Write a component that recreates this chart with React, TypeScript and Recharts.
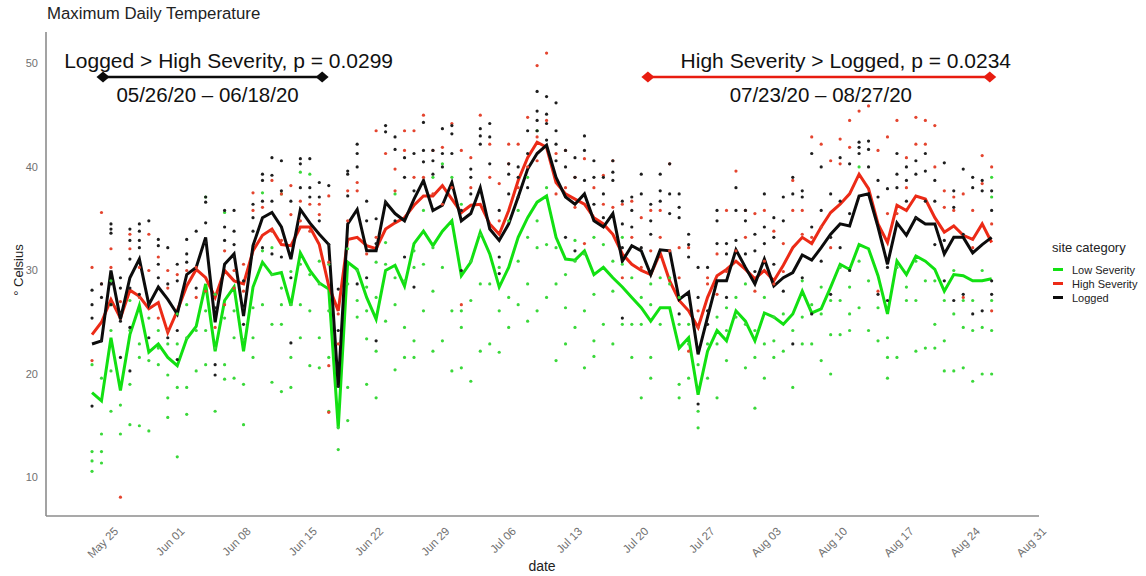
import {
  ComposedChart,
  Line,
  Scatter,
  XAxis,
  YAxis,
  ReferenceLine,
  ReferenceDot,
  Label,
  Legend,
} from "recharts";

const FONT = '"Liberation Sans", Arial, Helvetica, sans-serif';
const GREEN = "#12e012";
const RED = "#ec2a16";
const BLACK = "#0c0c0c";

// day 0 = May 23 2020
const tickDays = [2, 9, 16, 23, 30, 37, 44, 51, 58, 65, 72, 79, 86, 93, 100];
const tickLabels = [
  "May 25", "Jun 01", "Jun 08", "Jun 15", "Jun 22", "Jun 29", "Jul 06", "Jul 13",
  "Jul 20", "Jul 27", "Aug 03", "Aug 10", "Aug 17", "Aug 24", "Aug 31",
];
const yTicks = [10, 20, 30, 40, 50];

// daily means
const lowSeverity = [
  18.2, 17.4, 23.5, 18.4, 23.8, 26.6, 22.1, 22.9, 21.6, 20.8, 23.4, 24.6, 28.7, 22.2, 27.1, 28.4,
  22.2, 28.4, 30.8, 29.6, 29.8, 26.6, 31.7, 30.0, 28.8, 28.2, 14.8, 30.8, 30.1, 27.4, 25.3, 30.0,
  30.5, 28.5, 32.6, 33.8, 32.4, 33.8, 34.8, 29.5, 30.8, 33.7, 31.6, 28.4, 30.3, 33.2, 35.1, 36.6,
  37.2, 33.2, 31.1, 31.0, 31.9, 29.6, 30.3, 29.3, 28.4, 27.4, 26.4, 25.1, 26.4, 26.4, 22.5, 23.5,
  18.0, 22.2, 24.2, 23.2, 26.1, 25.1, 23.2, 25.9, 25.5, 24.8, 25.8, 28.0, 25.9, 26.3, 28.4, 30.6,
  30.1, 32.5, 32.1, 29.5, 25.8, 30.9, 29.6, 31.4, 30.9, 30.1, 28.0, 29.6, 29.5, 29.0, 29.0, 29.2,
];
const highSeverity = [
  23.8, 25.0, 27.2, 25.4, 28.1, 27.5, 26.3, 26.9, 24.0, 26.1, 28.5, 30.1, 29.3, 27.4, 30.0, 29.0,
  28.7, 31.9, 33.4, 34.0, 32.5, 32.4, 34.2, 34.2, 32.5, 28.5, 26.1, 33.0, 33.2, 32.4, 32.1, 34.0,
  34.6, 35.1, 36.3, 37.2, 37.2, 38.2, 36.9, 35.6, 36.3, 36.4, 34.5, 33.5, 35.8, 38.7, 40.9, 42.4,
  41.9, 38.5, 37.4, 36.9, 36.4, 35.1, 34.5, 33.5, 31.6, 30.6, 30.0, 29.6, 31.7, 29.0, 27.1, 26.1,
  24.5, 27.4, 29.5, 30.1, 30.9, 30.1, 29.2, 30.0, 29.0, 30.5, 32.2, 33.2, 32.6, 34.2, 35.6, 36.4,
  37.4, 39.3, 37.9, 34.5, 32.7, 36.3, 35.8, 37.2, 36.9, 35.1, 33.7, 34.3, 33.4, 33.0, 34.5, 32.7,
];
const logged = [
  22.9, 23.2, 30.0, 25.3, 29.3, 31.1, 26.7, 28.4, 27.2, 25.8, 29.6, 30.3, 33.2, 25.0, 30.6, 31.6,
  25.6, 32.4, 35.1, 35.6, 34.2, 31.1, 35.9, 34.6, 33.5, 32.5, 18.8, 34.5, 35.9, 31.9, 31.9, 36.6,
  35.5, 34.8, 36.9, 38.7, 35.8, 36.3, 38.5, 34.8, 35.5, 38.0, 34.0, 32.9, 34.5, 37.1, 39.8, 41.3,
  42.1, 39.0, 37.1, 36.4, 37.4, 34.8, 34.2, 35.5, 30.9, 32.4, 31.9, 29.6, 32.0, 31.9, 27.2, 27.9,
  21.9, 25.5, 29.0, 29.0, 32.0, 30.3, 28.7, 31.1, 28.5, 29.3, 29.8, 31.5, 31.0, 32.2, 33.5, 34.5,
  34.3, 37.2, 37.4, 34.2, 30.6, 34.6, 33.4, 35.1, 34.5, 34.5, 31.6, 33.2, 33.2, 31.7, 32.5, 33.2,
];

// site readings, one list per day
const lowSeverityPts: number[][] = [
  [20.9, 12.5, 11.6, 10.6], [19.6, 14.2, 12.5, 11.4], [29.0, 26.7, 24.2, 20.3, 16.4], [17.0, 14.2],
  [27.1, 24.2, 19.0, 15.1], [22.9, 21.6, 15.0], [25.4, 21.3, 14.5], [24.2, 22.5, 20.9],
  [22.9, 19.9, 17.7, 15.8], [25.8, 22.9, 18.7, 12.0], [26.7, 23.5, 18.7, 16.1], [24.2, 20.3],
  [37.1, 26.1, 24.2, 20.9], [27.7, 22.5, 16.4], [35.6, 25.4, 20.9, 19.5], [26.1, 23.5, 19.6],
  [23.3, 19.0, 15.1], [26.4, 23.5, 21.6], [37.5, 31.9, 26.7], [32.2, 29.6, 24.8, 19.2],
  [37.4, 28.3, 26.7, 24.8, 18.3], [29.9, 26.7, 21.6, 18.7], [39.5, 30.6, 26.7, 23.5], [39.3, 29.6, 26.1, 20.8],
  [30.9, 28.7, 23.5, 20.6], [30.6, 26.1, 21.6, 16.4], [14.8, 12.7], [32.1, 28.7, 18.7, 15.5],
  [30.0, 27.1, 25.5], [28.4, 26.1, 23.4, 19.0], [30.8, 27.4, 22.2, 17.7], [32.7, 30.6, 25.1],
  [37.4, 29.3, 26.7, 20.4], [29.0, 24.5, 21.6], [31.9, 30.3, 23.2, 21.6], [35.8, 30.6, 26.1],
  [39.0, 32.2, 28.0, 22.2], [40.3, 30.3, 23.2], [39.0, 26.1, 20.3], [36.4, 26.1, 24.5, 20.6],
  [30.9, 27.1, 19.3], [33.4, 28.7, 22.2], [28.7, 22.9], [30.3, 26.1, 22.1],
  [34.8, 27.4, 24.5], [35.8, 30.9, 26.7], [39.0, 33.2, 28.7, 25.1], [43.5, 34.8, 32.2, 26.1],
  [38.0, 32.5, 27.4], [32.2, 28.7, 21.3], [29.6, 26.4, 22.9], [32.9, 30.9, 24.5],
  [31.6, 26.1, 20.6], [33.2, 27.7, 23.2, 21.7], [32.5, 24.8], [30.9, 28.0, 22.9],
  [33.2, 30.6, 24.8], [29.3, 24.8, 21.6], [27.4, 24.8, 17.7], [28.7, 26.7, 21.6, 19.6],
  [29.3, 24.8], [29.3, 28.7], [27.4, 24.8, 19.0, 17.7], [24.8, 22.9, 19.6],
  [20.9, 16.4, 14.8], [22.9, 19.6], [25.5, 22.9, 17.7], [26.4, 24.2, 21.3],
  [27.4, 25.5], [28.7, 24.8, 20.6], [24.2, 21.6, 16.7], [27.4, 22.9, 19.6],
  [25.5, 23.2, 21.6], [25.8, 22.2], [24.2, 18.7], [29.0, 25.5, 22.9],
  [26.7, 22.9], [28.4, 25.8, 21.3], [27.1, 23.8, 20.0], [30.3, 27.1, 23.8],
  [28.4, 25.8, 24.2], [40.0, 30.9, 26.4], [29.0, 24.2], [26.4, 23.2],
  [23.5, 21.6, 19.6], [30.3, 21.6], [28.4, 27.1], [30.9, 27.1, 22.2],
  [29.0, 22.5], [29.0, 24.8, 22.5], [27.1, 23.2, 20.3], [30.0, 25.8, 20.3],
  [27.1, 24.5, 20.6], [27.1, 24.2, 19.3], [30.0, 24.5, 20.0], [39.0, 37.1, 27.1, 24.2, 20.0],
];
const highSeverityPts: number[][] = [
  [30.3, 21.3], [35.6, 28.7], [32.1, 30.3], [8.1, 27.0], [33.5, 32.1], [30.3, 27.4], [33.5, 30.0], [31.3, 25.4],
  [30.0, 28.3, 24.2], [29.6], [30.0], [30.3, 27.4], [28.0], [24.5], [31.9, 26.7], [30.0, 28.3],
  [30.6, 28.0], [37.5, 35.8], [36.1], [38.7, 33.8], [37.4, 32.9], [38.2, 35.4], [36.7, 34.8], [36.4, 33.8],
  [36.4, 35.4], [37.2, 30.8, 20.8, 16.3], [25.8, 22.9], [37.7, 34.8], [38.5, 37.7], [31.6], [43.5, 33.2], [41.3],
  [39.8, 37.7], [43.5, 41.6], [43.5, 39.0], [45.0, 39.0], [41.6, 37.4], [41.9, 36.4], [44.2, 38.0], [41.6, 26.7],
  [40.9, 38.0], [45.0], [42.2, 39.0], [38.4, 34.8], [42.2, 40.3], [42.2, 38.0], [44.8, 40.0], [49.8, 42.9, 40.6],
  [51.0, 44.5], [41.3, 37.4], [41.6, 38.0], [39.0, 36.1], [40.8, 32.6], [38.0], [39.2, 36.4], [40.6, 36.1],
  [36.4, 29.3], [36.7, 33.2], [35.1, 30.3], [35.8, 31.9], [35.8, 33.2], [40.3, 31.9], [32.2, 29.3], [32.2, 22.2],
  [26.1, 24.5], [29.3, 28.7], [31.6, 27.7], [35.8, 29.9], [39.6, 31.9], [35.8, 33.2], [35.5, 28.0], [35.8, 30.9],
  [33.8, 28.7], [32.6, 29.9], [38.7, 35.8], [35.8, 33.5], [42.9, 33.2], [42.2, 34.2], [40.6, 32.2], [42.7, 40.3],
  [44.5, 41.9], [45.4], [45.9], [41.6, 28.0], [42.9, 35.5], [44.5, 35.5], [40.9, 38.0], [44.8, 42.2],
  [44.5, 42.2], [44.0, 40.0], [37.7, 36.1], [37.1, 35.8], [37.4, 27.4], [35.8, 32.2], [41.1, 38.4], [40.0, 34.5, 26.1],
];
const loggedPts: number[][] = [
  [28.1, 26.7, 25.4, 16.9], [28.7, 27.4, 23.2], [34.5, 34.0, 33.6, 28.7, 26.7], [29.3, 28.3, 25.9, 25.1, 21.6],
  [34.0, 32.9, 31.1, 28.3, 24.5, 20.3], [34.5, 33.8, 32.9, 32.2, 27.7], [34.8, 26.7, 23.5], [33.0, 32.4, 30.6, 29.3],
  [32.2, 28.7, 23.5], [30.6, 29.0, 24.2, 21.4], [33.0, 31.6, 30.8], [33.8, 28.3],
  [37.1, 36.6, 34.6, 32.7], [26.4, 20.9, 19.9], [35.8, 34.2, 32.9], [35.8, 33.8, 32.5, 31.3],
  [29.0, 26.4, 24.8], [36.4, 35.1, 33.8], [39.3, 38.7, 36.7, 32.2], [40.9, 39.2, 36.7, 31.6],
  [40.6, 37.7, 31.3], [36.7, 29.3, 23.0], [40.8, 40.3, 38.0], [40.8, 38.0, 37.1],
  [38.5, 37.1, 34.8], [38.2, 32.5], [28.2, 24.2, 18.8], [39.6, 39.3, 37.2],
  [42.2, 41.3, 40.0, 28.7], [36.7, 34.8, 29.3], [35.0, 32.6, 23.2], [44.0, 43.4, 36.6],
  [42.9, 41.7, 34.8], [40.9, 39.0, 31.3], [41.3, 37.7, 28.4], [44.3, 41.6, 40.5],
  [41.6, 40.6, 39.3], [43.7, 41.3, 40.0], [44.0, 43.2, 41.3], [35.8, 30.0],
  [39.8, 39.0, 37.4], [43.7, 43.0, 42.2], [44.2, 42.9, 40.3], [35.8, 31.3, 29.7],
  [40.3, 39.3, 37.4], [40.0, 39.0, 37.1], [43.5, 41.3, 38.0], [47.3, 45.4, 44.5, 43.5],
  [46.8, 45.1, 44.2, 42.6], [46.2, 43.5, 42.2, 40.6], [41.6, 40.0, 33.2], [40.9, 39.0, 31.9],
  [43.0, 41.6, 38.7], [40.6, 39.0, 36.4], [39.0, 37.4, 35.1], [40.6, 39.5, 38.7],
  [36.7, 34.5, 32.2, 25.4], [37.1, 35.8, 34.2], [39.3, 37.4, 32.2], [36.4, 34.8, 33.5],
  [39.3, 37.7, 36.7], [40.3, 37.4, 35.5], [37.4, 36.1, 35.1, 25.8], [33.5, 32.5, 31.3],
  [30.3, 27.4, 17.1], [30.3, 26.1, 24.8], [35.8, 34.8, 32.6], [32.6, 31.6, 27.4],
  [38.0, 35.8, 32.9], [35.8, 34.8, 31.6], [33.5, 31.9, 29.9], [37.4, 34.2, 32.6],
  [35.1, 33.2, 30.6], [37.1, 34.8, 28.0], [39.0, 37.4, 22.9], [37.7, 37.1, 29.3],
  [41.3, 34.2, 25.8], [40.0, 35.8, 30.9], [37.4, 33.2, 27.7], [40.9, 36.7, 32.2],
  [40.3, 35.5, 30.0], [42.4, 41.9, 41.3], [42.5, 41.7, 40.0], [38.7, 37.1, 27.7],
  [37.9, 30.3, 27.1], [41.3, 39.3, 38.0], [40.0, 38.7, 36.7], [40.6, 39.3, 35.1],
  [41.3, 39.6, 36.7], [38.7, 36.7, 32.5], [40.4, 32.9, 29.0], [37.7, 36.1, 27.1],
  [39.8, 33.5, 27.7], [39.0, 38.0, 25.8], [38.7, 37.7, 26.1], [37.7, 35.8, 29.0, 27.7],
];

// significance brackets (day positions, temperature height)
const brackets = [
  { from: 1.16, to: 24.3, y: 48.7, color: BLACK, title: "Logged > High Severity, p = 0.0299", dates: "05/26/20 \u2013 06/18/20", dxTitle: 16, dxDates: -5 },
  { from: 58.7, to: 94.8, y: 48.7, color: "#e81c10", title: "High Severity > Logged,  p = 0.0234", dates: "07/23/20 \u2013 08/27/20", dxTitle: 27, dxDates: 2 },
];

const series = [
  { name: "Low Severity", color: GREEN, dot: "#3ad83a", line: lowSeverity, pts: lowSeverityPts },
  { name: "High Severity", color: RED, dot: "#e4442e", line: highSeverity, pts: highSeverityPts },
  { name: "Logged", color: BLACK, dot: "#1e1e1e", line: logged, pts: loggedPts },
];

const toLine = (vals: number[]) => vals.map((temp, day) => ({ day, temp }));
const toPts = (cols: number[][]) => cols.flatMap((col, day) => col.map((temp) => ({ day, temp })));

function DateTick({ x, y, payload }: any) {
  const label = tickLabels[tickDays.indexOf(payload.value)];
  const ax = x + 8;
  const ay = y + 8;
  return (
    <text x={ax} y={ay} transform={`rotate(-45 ${ax} ${ay})`} textAnchor="end" fontSize={11.5} fill="#707070" fontFamily={FONT}>
      {label}
    </text>
  );
}

function diamond(color: string) {
  return (p: any) => (
    <path d={`M${p.cx},${p.cy - 5.5}L${p.cx + 6.5},${p.cy}L${p.cx},${p.cy + 5.5}L${p.cx - 6.5},${p.cy}Z`} fill={color} />
  );
}

function bracketLabel(b: (typeof brackets)[number]) {
  return (props: any) => {
    const vb = props.viewBox || {};
    const cx = vb.x + (vb.width || 0) / 2;
    const cy = vb.y;
    return (
      <g fontFamily={FONT} fill="#111">
        <text x={cx + b.dxTitle} y={cy - 8.5} textAnchor="middle" fontSize={21}>{b.title}</text>
        <text x={cx + b.dxDates} y={cy + 25.5} textAnchor="middle" fontSize={20.5}>{b.dates}</text>
      </g>
    );
  };
}

function LegendBox() {
  return (
    <div style={{ position: "relative", width: 110, height: 80, fontFamily: FONT }}>
      <div style={{ position: "absolute", left: 16, top: 2, fontSize: 13, color: "#222", whiteSpace: "nowrap" }}>site category</div>
      {series.map((s, i) => (
        <div key={s.name} style={{ position: "absolute", left: 17, top: 25 + i * 14, height: 13, display: "flex", alignItems: "center", whiteSpace: "nowrap" }}>
          <span style={{ display: "inline-block", width: 10, height: 3, background: s.color, marginRight: 9 }} />
          <span style={{ fontSize: 11, color: "#222" }}>{s.name}</span>
        </div>
      ))}
    </div>
  );
}

export default function App() {
  return (
    <div style={{ position: "absolute", left: 0, top: 0, width: 1146, height: 576, background: "#fff", overflow: "hidden", fontFamily: FONT }}>
      <ComposedChart width={1146} height={576} margin={{ top: 32, right: 107, bottom: 10, left: 16 }}>
        <XAxis
          type="number"
          dataKey="day"
          domain={[-4.86, 100]}
          allowDataOverflow
          ticks={tickDays}
          tick={<DateTick />}
          tickLine={false}
          axisLine={{ stroke: "#8c8c8c", strokeWidth: 1.6 }}
          height={50}
          interval={0}
        />
        <YAxis
          type="number"
          dataKey="temp"
          domain={[6.28, 53.04]}
          allowDataOverflow
          ticks={yTicks}
          tickLine={false}
          axisLine={{ stroke: "#8c8c8c", strokeWidth: 1.6 }}
          tick={{ fontSize: 11, fill: "#707070", fontFamily: FONT }}
          width={30}
        />
        {series.map((s) => (
          <Scatter
            key={"p" + s.name}
            name={s.name + " sites"}
            data={toPts(s.pts)}
            dataKey="temp"
            legendType="none"
            isAnimationActive={false}
            shape={(p: any) => <circle cx={p.cx} cy={p.cy} r={1.6} fill={s.dot} />}
          />
        ))}
        {series.map((s) => (
          <Line
            key={"l" + s.name}
            name={s.name}
            data={toLine(s.line)}
            dataKey="temp"
            type="linear"
            stroke={s.color}
            strokeWidth={3}
            dot={false}
            activeDot={false}
            isAnimationActive={false}
          />
        ))}
        {brackets.map((b) => (
          <ReferenceLine
            key={b.title}
            segment={[{ x: b.from, y: b.y }, { x: b.to, y: b.y }]}
            stroke={b.color}
            strokeWidth={2.5}
            ifOverflow="visible"
          >
            <Label content={bracketLabel(b)} />
          </ReferenceLine>
        ))}
        {brackets.flatMap((b) => [
          <ReferenceDot key={b.title + "a"} x={b.from} y={b.y} ifOverflow="visible" shape={diamond(b.color)} />,
          <ReferenceDot key={b.title + "b"} x={b.to} y={b.y} ifOverflow="visible" shape={diamond(b.color)} />,
        ])}
        <Legend
          layout="vertical"
          align="center"
          verticalAlign="middle"
          wrapperStyle={{ left: 1036, top: 238, width: 110, height: 80 }}
          content={() => <LegendBox />}
        />
      </ComposedChart>
      <div style={{ position: "absolute", left: 47, top: 4, fontSize: 16.8, color: "#222", whiteSpace: "nowrap" }}>
        Maximum Daily Temperature
      </div>
      <div
        style={{
          position: "absolute",
          left: 18,
          top: 270,
          fontSize: 13,
          color: "#222",
          whiteSpace: "nowrap",
          transform: "translate(-50%, -50%) rotate(-90deg)",
        }}
      >
        ° Celsius
      </div>
      <div style={{ position: "absolute", left: 542, top: 566, fontSize: 14, color: "#222", transform: "translate(-50%, -50%)" }}>
        date
      </div>
    </div>
  );
}
